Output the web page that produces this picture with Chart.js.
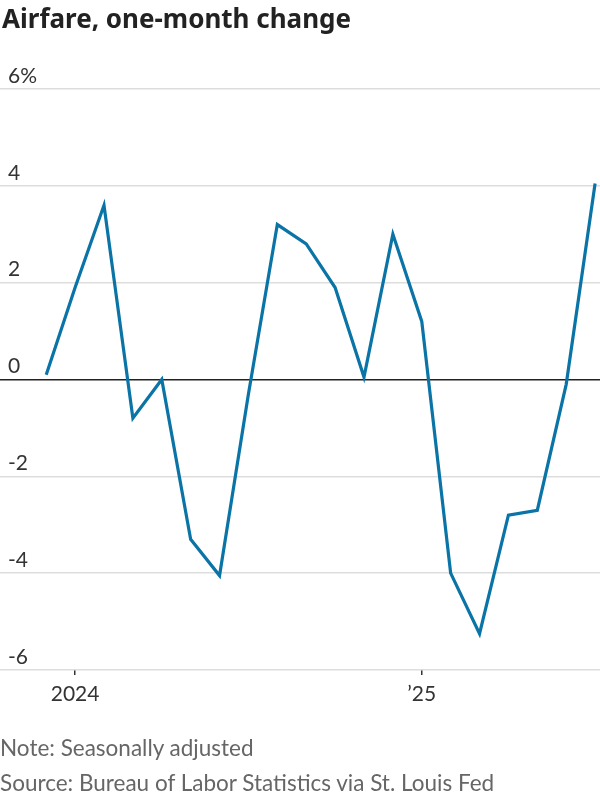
<!DOCTYPE html>
<html>
<head>
<meta charset="utf-8">
<script src="https://cdn.jsdelivr.net/npm/chart.js@4.4.1/dist/chart.umd.min.js"></script>
<style>
  body { margin: 0; background: #fff; }
  #wrap { position: relative; width: 600px; height: 800px; }
  #chart-box { position: absolute; left: 0; top: 0; width: 600px; height: 800px; }
  .title { position: absolute; left: 2px; top: 0px; font: bold 26px "Noto Sans", sans-serif; color: #222; }
  .note { position: absolute; left: 0; font: 22.5px Lato, sans-serif; color: #666; }
</style>
</head>
<body>
<div id="wrap">
  <div id="chart-box"><canvas id="myChart"></canvas></div>
  <div class="title">Airfare, one-month change</div>
  <div class="note" style="top: 734px;">Note: Seasonally adjusted</div>
  <div class="note" style="top: 769px;">Source: Bureau of Labor Statistics via St. Louis Fed</div>
</div>
<script>
'use strict';

// monthly data, Dec 2023 - Jul 2025
let months = [
  'Dec 2023', 'Jan 2024', 'Feb 2024', 'Mar 2024', 'Apr 2024', 'May 2024', 'Jun 2024',
  'Jul 2024', 'Aug 2024', 'Sep 2024', 'Oct 2024', 'Nov 2024', 'Dec 2024',
  'Jan 2025', 'Feb 2025', 'Mar 2025', 'Apr 2025', 'May 2025', 'Jun 2025', 'Jul 2025'
];
let airfareChange = [
  0.1, 1.9, 3.6, -0.8, 0.0, -3.3, -4.05,
  -0.3, 3.2, 2.8, 1.9, 0.05, 3.0,
  1.2, -4.0, -5.25, -2.8, -2.7, -0.1, 4.05
];
let xTickMonths = ['Jan 2024', 'Jan 2025'];
let xTickLabels = ['2024', '\u201925'];
let yTicks = [-6, -4, -2, 0, 2, 4, 6];

let points = [];
for (let i = 0; i < months.length; i++) {
  points.push({ x: i, y: airfareChange[i] });
}

let ctx = document.getElementById('myChart').getContext('2d');
let myChart = new Chart(ctx, {
  type: 'line',
  data: {
    datasets: [{
      label: 'Airfare',
      data: points,
      borderColor: '#0a74a6',
      borderWidth: 3.2,
      pointRadius: 0,
      tension: 0,
      borderJoinStyle: 'miter'
    }]
  },
  options: {
    responsive: true,
    maintainAspectRatio: false,
    animation: false,
    layout: { padding: { top: 89, left: 0, right: 0, bottom: 80 } },
    plugins: {
      legend: { display: false },
      tooltip: { enabled: false }
    },
    scales: {
      x: {
        type: 'linear',
        min: -1.6,
        max: 19.17,
        afterBuildTicks: function (scale) {
          scale.ticks = xTickMonths.map(function (m) { return { value: months.indexOf(m) }; });
        },
        afterFit: function (scale) { scale.height = 50; },
        border: { display: false },
        grid: { drawOnChartArea: false, drawTicks: true, tickLength: 5, color: '#333', lineWidth: 1.5 },
        ticks: {
          autoSkip: false,
          maxRotation: 0,
          padding: 7,
          color: '#333',
          font: { family: 'Lato', size: 21 },
          callback: function (value) {
            let idx = xTickMonths.indexOf(months[value]);
            return idx >= 0 ? xTickLabels[idx] : '';
          }
        }
      },
      y: {
        min: -6,
        max: 6,
        afterBuildTicks: function (scale) {
          scale.ticks = yTicks.map(function (v) { return { value: v }; });
        },
        afterFit: function (scale) { scale.width = 0; },
        border: { display: false },
        grid: {
          drawTicks: false,
          lineWidth: 1.5,
          color: function (c) { return c.tick && c.tick.value === 0 ? '#222' : '#dddddd'; }
        },
        ticks: {
          mirror: true,
          padding: 8,
          labelOffset: -13,
          color: '#333',
          font: { family: 'Lato', size: 21 },
          callback: function (value) { return value === 6 ? '6%' : String(value); }
        }
      }
    }
  }
});
</script>
</body>
</html>
